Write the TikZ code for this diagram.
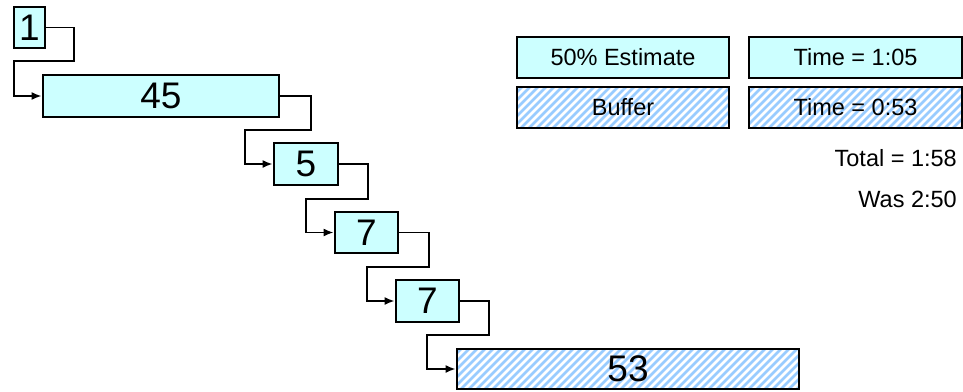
\documentclass[tikz,border=0pt]{standalone}
\usepackage{fontspec}
\setmainfont{Liberation Sans}
\usetikzlibrary{arrows.meta}
\definecolor{taskfill}{HTML}{CCFFFF}
\definecolor{hatchblue}{HTML}{99CCFF}
\tikzset{
  box/.style={draw=black, line width=2.8pt, inner sep=0pt, text=black},
  task/.style={box, fill=taskfill},
  buffer/.style={box, fill=white, path picture={
      \foreach \k in {0,8,...,420}
        \draw[hatchblue, line width=2.8pt]
          ([xshift=\k pt-60pt]path picture bounding box.south west) -- ++(70pt,70pt);}},
  big/.style={font=\fontsize{37}{37}\selectfont},
  small/.style={font=\fontsize{23.5}{24}\selectfont},
  conn/.style={draw=black, line width=1.8pt, -{Latex[length=10pt,width=8pt]}},
}
\begin{document}
\begin{tikzpicture}[x=1pt,y=-1pt]
  \useasboundingbox (0,0) rectangle (963,391);

  % chain of tasks
  \node[task,big,minimum width=31pt,minimum height=41pt]  (t1)  at (29.5,27.5) {1};
  \node[task,big,minimum width=236pt,minimum height=42pt] (t45) at (161,96)    {45};
  \node[task,big,minimum width=64pt,minimum height=42pt]  (t5)  at (306,164)   {5};
  \node[task,big,minimum width=63pt,minimum height=41pt]  (t7a) at (366.5,232.5) {7};
  \node[task,big,minimum width=63pt,minimum height=42pt]  (t7b) at (427.5,301) {7};
  \node[buffer,big,minimum width=342pt,minimum height=40pt] (buf) at (628,369) {53};

  % links between consecutive tasks
  \draw[conn] (t1.east)  -| (74,61)  -- (14,61)  |- (t45.west);
  \draw[conn] (t45.east) -| (311,130) -- (245,130) |- (t5.west);
  \draw[conn] (t5.east)  -| (368,199) -- (306,199) |- (t7a.west);
  \draw[conn] (t7a.east) -| (429,267) -- (367,267) |- (t7b.west);
  \draw[conn] (t7b.east) -| (489,335) -- (427,335) |- (buf.west);

  % legend
  \node[task,small,minimum width=212pt,minimum height=41pt]   (lest)  at (623,57.5)  {50\% Estimate};
  \node[task,small,minimum width=213pt,minimum height=41pt]   (ltest) at (855.5,57.5) {Time = 1:05};
  \node[buffer,small,minimum width=212pt,minimum height=41pt] (lbuf)  at (623,107.5) {Buffer};
  \node[buffer,small,minimum width=213pt,minimum height=41pt] (ltbuf) at (855.5,107.5) {Time = 0:53};

  \node[small,anchor=east,inner sep=0pt] (total) at (957,158) {Total = 1:58};
  \node[small,anchor=east,inner sep=0pt] (was)   at (957,199) {Was 2:50};
\end{tikzpicture}
\end{document}
